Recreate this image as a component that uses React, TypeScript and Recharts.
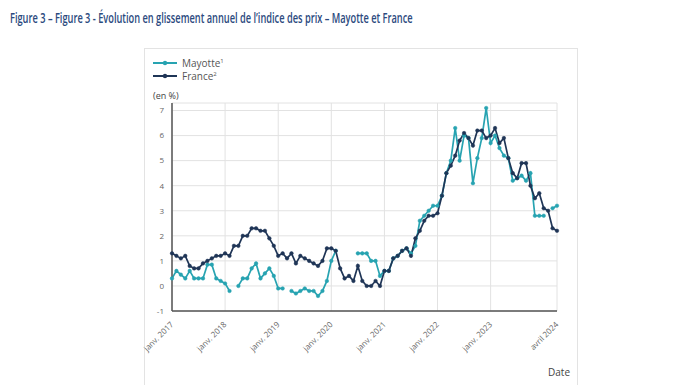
import React from "react";
import { LineChart, Line, XAxis, YAxis, CartesianGrid } from "recharts";

// glissement annuel, en %, janv. 2017 -> avril 2024 (88 mois)
const france = [
  1.3, 1.2, 1.1, 1.2, 0.8, 0.7, 0.7, 0.9, 1.0, 1.1, 1.2, 1.2,
  1.3, 1.2, 1.6, 1.6, 2.0, 2.0, 2.3, 2.3, 2.2, 2.2, 1.9, 1.6,
  1.2, 1.3, 1.1, 1.3, 0.9, 1.2, 1.1, 1.0, 0.9, 0.8, 1.0, 1.5,
  1.5, 1.4, 0.7, 0.3, 0.4, 0.2, 0.8, 0.2, 0.0, 0.0, 0.2, 0.0,
  0.6, 0.6, 1.1, 1.2, 1.4, 1.5, 1.2, 1.9, 2.2, 2.6, 2.8, 2.8,
  2.9, 3.6, 4.5, 4.8, 5.2, 5.8, 6.1, 5.9, 5.6, 6.2, 6.2, 5.9,
  6.0, 6.3, 5.7, 5.9, 5.1, 4.5, 4.3, 4.9, 4.9, 4.0, 3.5, 3.7,
  3.1, 3.0, 2.3, 2.2,
];

const mayotte: (number | null)[] = [
  0.3, 0.6, 0.45, 0.3, 0.6, 0.3, 0.3, 0.3, 0.85, 0.85, 0.3, 0.2,
  0.1, -0.2, null, 0.0, 0.3, 0.3, 0.7, 0.9, 0.3, 0.5, 0.7, 0.4,
  -0.1, -0.1, null, -0.2, -0.3, -0.2, -0.1, -0.2, -0.2, -0.4, -0.2, 0.2,
  1.0, 1.4, null, null, null, null, 1.3, 1.3, 1.3, 1.0, 1.0, 0.4,
  0.6, 0.6, 1.1, 1.2, 1.4, 1.5, 1.3, 1.6, 2.6, 2.8, 3.0, 3.2,
  3.2, 3.6, 4.5, 5.0, 6.3, 5.0, 6.0, 5.9, 4.1, 5.1, 5.9, 7.1,
  5.7, 6.0, 5.5, 5.2, 5.1, 4.2, 4.3, 4.4, 4.2, 4.5, 2.8, 2.8,
  2.8, null, 3.1, 3.2,
];

const xTicks = [0, 12, 24, 36, 48, 60, 72, 87];
const xTickLabels = [
  "janv. 2017",
  "janv. 2018",
  "janv. 2019",
  "janv. 2020",
  "janv. 2021",
  "janv. 2022",
  "janv. 2023",
  "avril 2024",
];
const yTicks = [-1, 0, 1, 2, 3, 4, 5, 6, 7];

const data = france.map((v, i) => ({ m: i, france: v, mayotte: mayotte[i] }));

const TEAL = "#27a3b1";
const NAVY = "#1f3556";
const FONT = "'Open Sans', 'Noto Sans', sans-serif";

function LegendBox() {
  const items = [
    { label: "Mayotte", sup: "1", color: TEAL },
    { label: "France", sup: "2", color: NAVY },
  ];
  return (
    <div style={{ fontFamily: FONT, fontSize: 10, color: "#555" }}>
      {items.map((it) => (
        <div key={it.label} style={{ display: "flex", alignItems: "center", height: 13 }}>
          <svg width={26} height={8} style={{ marginRight: 4 }}>
            <line x1={1} y1={4} x2={25} y2={4} stroke={it.color} strokeWidth={2} />
            <circle cx={13} cy={4} r={2.2} fill={it.color} />
          </svg>
          <span>
            {it.label}
            <sup style={{ fontSize: 6 }}>{it.sup}</sup>
          </span>
        </div>
      ))}
    </div>
  );
}

function XTick(props: any) {
  const { x, y, payload } = props;
  const i = xTicks.indexOf(payload.value);
  return (
    <text
      x={x + 2}
      y={y + 6}
      transform={`rotate(-45 ${x + 2} ${y + 6})`}
      textAnchor="end"
      fontSize={8}
      fontFamily={FONT}
      fill="#666"
    >
      {xTickLabels[i]}
    </text>
  );
}

export default function App() {
  return (
    <div style={{ position: "fixed", left: 0, top: 0, width: 696, height: 385, background: "#fff", overflow: "hidden" }}>
      <div
        style={{
          position: "absolute",
          left: 10,
          top: 8,
          fontFamily: FONT,
          fontSize: 14,
          fontWeight: 600,
          color: "#2b4a7e",
          whiteSpace: "nowrap",
          transform: "scaleX(0.66)",
          transformOrigin: "0 0",
        }}
      >
        Figure 3 – Figure 3 - Évolution en glissement annuel de l’indice des prix – Mayotte et France
      </div>
      <div
        style={{
          position: "absolute",
          left: 144,
          top: 48,
          width: 434,
          height: 350,
          border: "1px solid #e3e3e3",
          boxSizing: "border-box",
        }}
      />
      <div style={{ position: "absolute", left: 152, top: 56 }}>
        <LegendBox />
      </div>
      <div style={{ position: "absolute", left: 153, top: 89, fontFamily: FONT, fontSize: 9, color: "#444" }}>
        (en %)
      </div>
      <div style={{ position: "absolute", left: 548, top: 365, fontFamily: FONT, fontSize: 10, color: "#444" }}>
        Date
      </div>
      <div style={{ position: "absolute", left: 0, top: 0 }}>
        <LineChart
          width={696}
          height={385}
          data={data}
          margin={{ top: 103, right: 139, bottom: 24, left: 142 }}
        >
          <CartesianGrid stroke="#e2e2e2" strokeWidth={1} />
          <XAxis
            type="number"
            dataKey="m"
            domain={[0, 87]}
            ticks={xTicks}
            interval={0}
            height={50}
            tick={<XTick />}
            tickLine={false}
            axisLine={{ stroke: "#555", strokeWidth: 1.5 }}
          />
          <YAxis
            type="number"
            domain={[-1, 7.3]}
            ticks={yTicks}
            interval={0}
            width={30}
            tick={{ fontSize: 8, fill: "#666", fontFamily: FONT }}
            tickLine={false}
            axisLine={{ stroke: "#555", strokeWidth: 1.5 }}
          />
          <Line
            dataKey="mayotte"
            stroke={TEAL}
            strokeWidth={1.7}
            dot={{ r: 1.8, fill: TEAL, stroke: TEAL, strokeWidth: 0.5 }}
            isAnimationActive={false}
          />
          <Line
            dataKey="france"
            stroke={NAVY}
            strokeWidth={1.7}
            dot={{ r: 1.8, fill: NAVY, stroke: NAVY, strokeWidth: 0.5 }}
            isAnimationActive={false}
          />
        </LineChart>
      </div>
    </div>
  );
}
